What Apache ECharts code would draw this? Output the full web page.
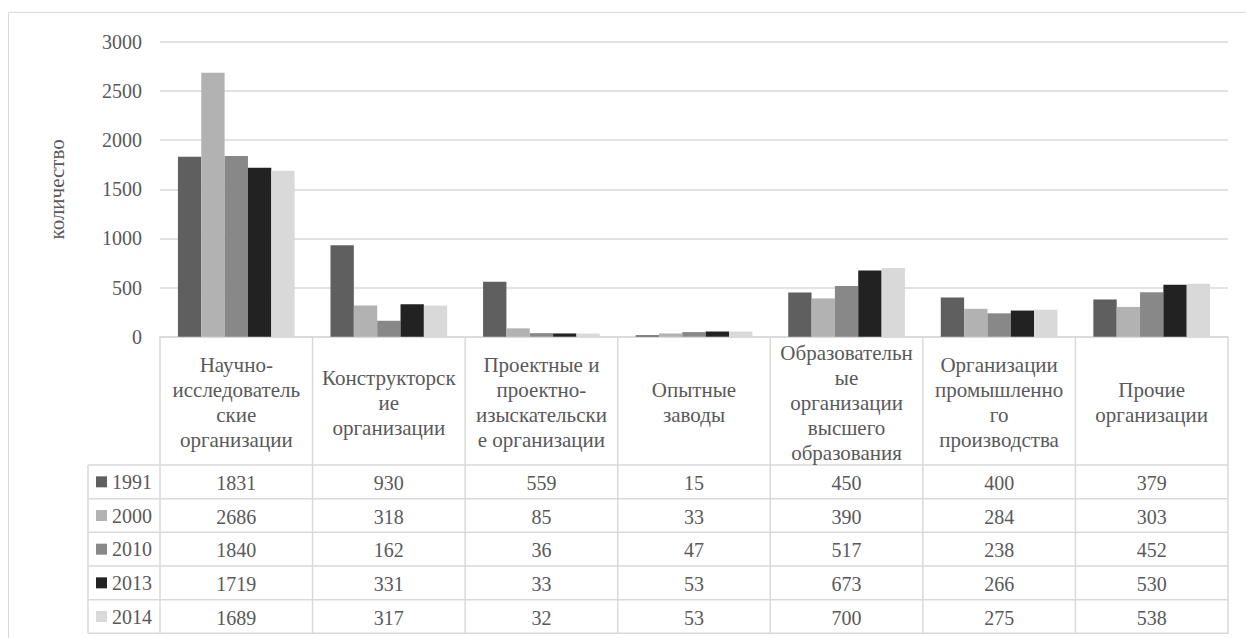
<!DOCTYPE html>
<html>
<head>
<meta charset="utf-8">
<title>Организации</title>
<script src="https://cdn.jsdelivr.net/npm/echarts@6/dist/echarts.min.js"></script>
<style>
  html, body { margin: 0; padding: 0; background: #fff; }
  #chart { width: 1246px; height: 638px; }
</style>
</head>
<body>
<div id="chart"></div>
<script>
// категории (переносы строк как в исходной таблице)
var categories = [
  'Научно-\nисследователь\nские\nорганизации',
  'Конструкторск\nие\nорганизации',
  'Проектные и\nпроектно-\nизыскательски\nе организации',
  'Опытные\nзаводы',
  'Образовательн\nые\nорганизации\nвысшего\nобразования',
  'Организации\nпромышленно\nго\nпроизводства',
  'Прочие\nорганизации'
]
var years = ['1991', '2000', '2010', '2013', '2014']
var v1991 = [1831, 930, 559, 15, 450, 400, 379]
var v2000 = [2686, 318, 85, 33, 390, 284, 303]
var v2010 = [1840, 162, 36, 47, 517, 238, 452]
var v2013 = [1719, 331, 33, 53, 673, 266, 530]
var v2014 = [1689, 317, 32, 53, 700, 275, 538]
var values = [v1991, v2000, v2010, v2013, v2014]
var colors = ['#5f5f5f', '#b2b2b2', '#888888', '#222222', '#d9d9d9']

var FONT = 'Liberation Serif'
var TXT = '#595959'
var LINE = '#d9d9d9'

// геометрия таблицы данных
var plotLeft = 160
var plotRight = 1228
var plotTop = 42
var axisY = 336.7
var colW = (plotRight - plotLeft) / categories.length
var headerBottom = 465
var rowH = 33.67
var legendLeft = 88

var myChart = echarts.init(document.getElementById('chart'), null, { renderer: 'svg' })

var graphics = []
// внешняя рамка
graphics.push({
  type: 'rect',
  shape: { x: 8.5, y: 12.5, width: 1400, height: 800 },
  style: { fill: 'none', stroke: LINE, lineWidth: 1 },
  silent: true
})
// горизонтальные линии таблицы
for (var r = 0; r <= years.length; r++) {
  var y = headerBottom + r * rowH
  graphics.push({
    type: 'line',
    shape: { x1: legendLeft, y1: y, x2: plotRight, y2: y },
    style: { stroke: LINE, lineWidth: 1.5 },
    silent: true
  })
}
// вертикальные линии
for (var c = 0; c <= categories.length; c++) {
  var x = plotLeft + c * colW
  graphics.push({
    type: 'line',
    shape: { x1: x, y1: axisY, x2: x, y2: headerBottom + years.length * rowH },
    style: { stroke: LINE, lineWidth: 1.5 },
    silent: true
  })
}
graphics.push({
  type: 'line',
  shape: { x1: legendLeft, y1: headerBottom, x2: legendLeft, y2: headerBottom + years.length * rowH },
  style: { stroke: LINE, lineWidth: 1.5 },
  silent: true
})
// значения в ячейках
values.forEach(function (row, ri) {
  row.forEach(function (v, ci) {
    graphics.push({
      type: 'text',
      x: plotLeft + (ci + 0.5) * colW,
      y: headerBottom + (ri + 0.5) * rowH + 1,
      style: {
        text: String(v),
        fill: TXT,
        fontFamily: FONT,
        fontSize: 20,
        align: 'center',
        verticalAlign: 'middle'
      },
      silent: true
    })
  })
})

var option = {
  animation: false,
  backgroundColor: '#fff',
  textStyle: { fontFamily: FONT },
  grid: {
    left: plotLeft,
    right: 1246 - plotRight,
    top: plotTop,
    height: axisY - plotTop
  },
  legend: {
    orient: 'vertical',
    left: 96,
    top: headerBottom + (rowH - 20) / 2,
    padding: 0,
    itemWidth: 11,
    itemHeight: 11,
    itemGap: rowH - 20,
    icon: 'rect',
    selectedMode: false,
    textStyle: { fontFamily: FONT, fontSize: 20, color: TXT, lineHeight: 20, padding: 0 },
    data: years
  },
  xAxis: {
    type: 'category',
    data: categories,
    axisLine: { lineStyle: { color: LINE, width: 1.5 } },
    axisTick: { show: false },
    axisLabel: {
      interval: 0,
      margin: 66,
      verticalAlign: 'middle',
      fontFamily: FONT,
      fontSize: 21,
      lineHeight: 25,
      color: TXT
    }
  },
  yAxis: {
    type: 'value',
    min: 0,
    max: 3000,
    interval: 500,
    name: 'количество',
    nameLocation: 'middle',
    nameGap: 93,
    nameTextStyle: { fontFamily: FONT, fontSize: 21, color: TXT },
    axisLine: { show: false },
    axisTick: { show: false },
    axisLabel: {
      margin: 18,
      fontFamily: FONT,
      fontSize: 20,
      color: TXT,
      formatter: function (v) { return String(v) }
    },
    splitLine: { lineStyle: { color: LINE, width: 1.5 } }
  },
  graphic: graphics,
  series: years.map(function (yr, i) {
    return {
      name: yr,
      type: 'bar',
      barGap: '0%',
      barCategoryGap: '23.5%',
      itemStyle: { color: colors[i] },
      data: values[i]
    }
  })
}

myChart.setOption(option)
</script>
</body>
</html>
